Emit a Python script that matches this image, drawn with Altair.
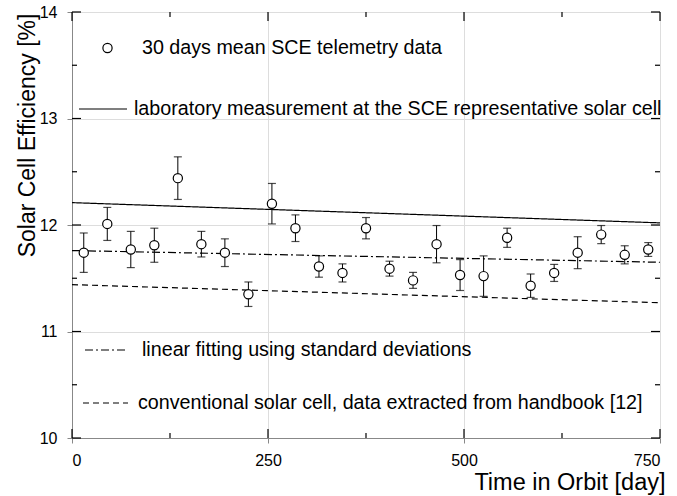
import altair as alt
import pandas as pd

# 30-day mean efficiency of the SCE telemetry with its standard deviation
days = [15, 45, 75, 105, 135, 165, 195, 225, 255, 285, 315, 345, 375,
        405, 435, 465, 495, 525, 555, 585, 615, 645, 675, 705, 735]
efficiency = [11.74, 12.01, 11.77, 11.81, 12.44, 11.82, 11.74, 11.35, 12.20,
              11.97, 11.61, 11.55, 11.97, 11.59, 11.48, 11.82, 11.53, 11.52,
              11.88, 11.43, 11.55, 11.74, 11.91, 11.72, 11.77]
std_dev = [0.185, 0.155, 0.17, 0.16, 0.20, 0.12, 0.13, 0.115, 0.19, 0.125,
           0.10, 0.085, 0.10, 0.07, 0.075, 0.175, 0.145, 0.19, 0.09, 0.11,
           0.08, 0.15, 0.085, 0.085, 0.065]

# straight reference lines, start and end of the mission period
line_days = [0, 750]
lab_eff = [12.21, 12.02]
fit_eff = [11.76, 11.65]
conv_eff = [11.44, 11.27]

legend_labels = [
    "30 days mean SCE telemetry data",
    "laboratory measurement at the SCE representative solar cell",
    "linear fitting using standard deviations",
    "conventional solar cell, data extracted from handbook [12]",
]

x_major = [0, 250, 500, 750]
x_minor = [125, 375, 625]
y_major = [10, 11, 12, 13, 14]
y_minor = [10.5, 11.5, 12.5, 13.5]

W, H = 588, 426
FONT = "Liberation Sans"

xscale = alt.Scale(domain=[0, 750], nice=False, zero=False)
yscale = alt.Scale(domain=[10, 14], nice=False, zero=False)
xaxis = alt.Axis(values=x_major, title="Time in Orbit [day]", format="d",
                 titleAnchor="end", titleAlign="right", titleX=593, titleY=51,
                 titleBaseline="alphabetic", titleFontSize=23.5,
                 titleFontWeight="normal", titleFont=FONT,
                 labelPadding=9, labelFontSize=16, labelFont=FONT)
yaxis = alt.Axis(values=y_major, title="Solar Cell Efficiency [%]", format="d",
                 titleAngle=270, titleAlign="center", titleBaseline="middle",
                 titleX=-45, titleY=123, titleFontSize=23,
                 titleFontWeight="normal", titleFont=FONT,
                 labelPadding=10, labelFontSize=16, labelFont=FONT)


def X(field="day"):
    return alt.X(f"{field}:Q", scale=xscale, axis=xaxis)


def Y(field="eff"):
    return alt.Y(f"{field}:Q", scale=yscale, axis=yaxis)


obs = pd.DataFrame({"day": days, "eff": efficiency, "sd": std_dev})
obs["lo"] = obs["eff"] - obs["sd"]
obs["hi"] = obs["eff"] + obs["sd"]

lines = pd.DataFrame({
    "day": line_days * 3,
    "eff": lab_eff + fit_eff + conv_eff,
    "kind": ["lab"] * 2 + ["fit"] * 2 + ["conv"] * 2,
})

dash = {"lab": [1, 0], "fit": [8, 3, 2, 3], "conv": [6, 4]}

layers = []
for kind in ["lab", "fit", "conv"]:
    layers.append(
        alt.Chart(lines[lines["kind"] == kind])
        .mark_line(color="black", strokeWidth=1.2, strokeDash=dash[kind])
        .encode(x=X(), y=Y())
    )

# error bars with caps
layers.append(
    alt.Chart(obs).mark_rule(color="black", strokeWidth=1)
    .encode(x=X(), y=Y("lo"), y2="hi:Q")
)
for end in ["lo", "hi"]:
    layers.append(
        alt.Chart(obs).mark_tick(color="black", orient="horizontal",
                                 size=8, thickness=1.2)
        .encode(x=X(), y=Y(end))
    )

layers.append(
    alt.Chart(obs).mark_point(shape="circle", filled=True, fill="white",
                              stroke="black", strokeWidth=1.2, size=85,
                              opacity=1)
    .encode(x=X(), y=Y())
)

# inward tick marks on all four sides
xt = pd.DataFrame({"day": x_major + x_minor,
                   "len": [9] * len(x_major) + [5] * len(x_minor)})
yt = pd.DataFrame({"eff": y_major + y_minor,
                   "len": [9] * len(y_major) + [5] * len(y_minor)})
for _, r in xt.iterrows():
    d = pd.DataFrame({"day": [r["day"]]})
    L = r["len"]
    layers.append(alt.Chart(d).mark_rule(color="black", strokeWidth=1.2)
                  .encode(x=X(), y=alt.value(H), y2=alt.value(H - L)))
    layers.append(alt.Chart(d).mark_rule(color="black", strokeWidth=1.2)
                  .encode(x=X(), y=alt.value(0), y2=alt.value(L)))
for _, r in yt.iterrows():
    d = pd.DataFrame({"eff": [r["eff"]]})
    L = r["len"]
    layers.append(alt.Chart(d).mark_rule(color="black", strokeWidth=1.2)
                  .encode(y=Y(), x=alt.value(0), x2=alt.value(L)))
    layers.append(alt.Chart(d).mark_rule(color="black", strokeWidth=1.2)
                  .encode(y=Y(), x=alt.value(W), x2=alt.value(W - L)))

# legend drawn inside the plot area
legend_rows = [
    (70, 36), (62, 97), (70, 338), (66, 391),
]
for label, (tx, ty) in zip(legend_labels, legend_rows):
    layers.append(
        alt.Chart(pd.DataFrame({"t": [label]}))
        .mark_text(align="left", baseline="middle", fontSize=19.7, font=FONT,
                   color="black")
        .encode(x=alt.value(tx), y=alt.value(ty), text="t:N")
    )

legend_pt = pd.DataFrame({"t": ["o"]})
layers.append(
    alt.Chart(legend_pt).mark_point(shape="circle", filled=True, fill="white",
                                    stroke="black", strokeWidth=1.2, size=85,
                                    opacity=1)
    .encode(x=alt.value(35.5), y=alt.value(36))
)
for (x0, x1, yy), kind in zip([(7, 55, 97), (13, 56, 338), (11, 56, 391)],
                              ["lab", "fit", "conv"]):
    layers.append(
        alt.Chart(legend_pt).mark_rule(color="black", strokeWidth=1.2,
                                       strokeDash=dash[kind])
        .encode(x=alt.value(x0), x2=alt.value(x1), y=alt.value(yy))
    )

chart = (
    alt.layer(*layers)
    .properties(width=W, height=H,
                autosize=alt.AutoSizeParams(type="none"),
                padding={"left": 72, "top": 12, "right": 17, "bottom": 58})
    .configure_view(stroke="black", strokeWidth=1.5)
    .configure_axis(domain=False, ticks=False, grid=False, labelColor="black",
                    titleColor="black", labelFont=FONT, titleFont=FONT,
                    titleFontWeight="normal")
    .configure(background="white")
)

chart.save("out.html", embed_options={"renderer": "svg", "actions": False})
